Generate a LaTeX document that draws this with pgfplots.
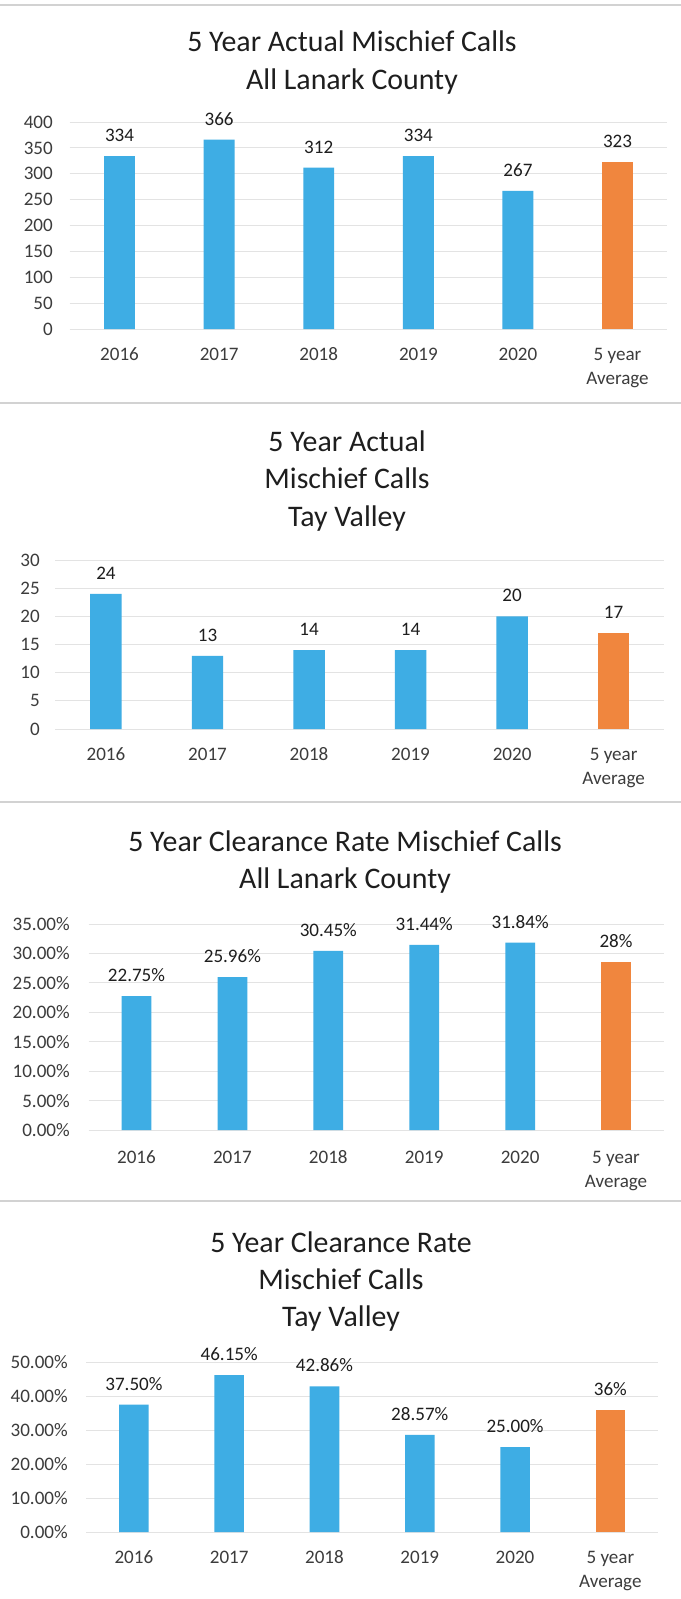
\documentclass[border=0pt]{standalone}
\usepackage{fontspec}
\setmainfont{Carlito}
\usepackage{pgfplots}
\pgfplotsset{compat=1.18}
\definecolor{barblue}{RGB}{62,173,228}
\definecolor{barorange}{RGB}{240,134,62}
\definecolor{txt}{RGB}{30,30,30}
\definecolor{ticktxt}{RGB}{60,60,60}

\pgfplotsset{
  panel/.style={
    scale only axis,
    xmin=-0.5, xmax=5.5,
    ymin=0,
    enlargelimits=false,
    axis line style={draw=none},
    major tick length=0pt,
    tick style={draw=none},
    ymajorgrids,
    grid style={gray!22, line width=0.6pt},
    xtick={0,...,5},
    xticklabels={2016,2017,2018,2019,2020,{\begin{tabular}[t]{@{}c@{}}5 year\\Average\end{tabular}}},
    xticklabel style={anchor=base, inner sep=0pt, yshift=-23.25pt, font=\fontsize{14.3}{18}\selectfont, text=ticktxt},
    yticklabel style={anchor=east, inner sep=0pt, font=\fontsize{14.3}{17}\selectfont, text=ticktxt},
    ybar, bar width=0.31, bar shift=0pt,
    point meta=explicit symbolic,
    nodes near coords,
    nodes near coords style={anchor=south, inner sep=0pt, yshift=10.5pt, font=\fontsize{14.3}{17}\selectfont, text=txt},
    clip=false,
  },
}
\tikzset{ttl/.style={anchor=base, inner sep=0pt, font=\fontsize{22.4}{28}\selectfont, text=txt}}

\begin{document}
\begin{tikzpicture}
\path[use as bounding box] (0,0) rectangle (510.75pt,-1199.25pt);
\fill[white] (0,0) rectangle (510.75pt,-1199.25pt);
% panel separators
\foreach \yy in {3.75,302.25,601.5,900.75} {
  \draw[gray!35, line width=0.9pt] (0,-\yy pt) -- (510.75pt,-\yy pt);
}

% ---------- Panel 1 ----------
\node[ttl] at (264pt,-38.4pt) {5 Year Actual Mischief Calls};
\node[ttl] at (264pt,-66.9pt) {All Lanark County};
\begin{axis}[panel,
  at={(52.3pt,-246.75pt)}, anchor=south west,
  width=448.2pt, height=155.25pt, ymax=400,
  ytick={0,50,...,400},
  yticklabels={0,50,100,150,200,250,300,350,400},
  yticklabel style={xshift=-12.5pt}]
\addplot[fill=barblue, draw=none] coordinates {(0,334) [334] (1,366) [366] (2,312) [312] (3,334) [334] (4,267) [267]};
\addplot[fill=barorange, draw=none] coordinates {(5,323) [323]};
\end{axis}

% ---------- Panel 2 ----------
\node[ttl] at (260.3pt,-338.6pt) {5 Year Actual};
\node[ttl] at (260.3pt,-366.4pt) {Mischief Calls};
\node[ttl] at (260.3pt,-394.9pt) {Tay Valley};
\begin{axis}[panel,
  at={(41.4pt,-546.75pt)}, anchor=south west,
  width=456.9pt, height=126.75pt, ymax=30,
  ytick={0,5,...,30},
  yticklabels={0,5,10,15,20,25,30},
  yticklabel style={xshift=-11.4pt}]
\addplot[fill=barblue, draw=none] coordinates {(0,24) [24] (1,13) [13] (2,14) [14] (3,14) [14] (4,20) [20]};
\addplot[fill=barorange, draw=none] coordinates {(5,17) [17]};
\end{axis}

% ---------- Panel 3 ----------
\node[ttl] at (258.8pt,-638.4pt) {5 Year Clearance Rate Mischief Calls};
\node[ttl] at (258.8pt,-666.4pt) {All Lanark County};
\begin{axis}[panel,
  at={(66.4pt,-847.5pt)}, anchor=south west,
  width=431.6pt, height=154.5pt, ymax=35,
  ytick={0,5,...,35},
  yticklabels={0.00\%,5.00\%,10.00\%,15.00\%,20.00\%,25.00\%,30.00\%,35.00\%},
  yticklabel style={xshift=-13.9pt},
  xticklabel style={yshift=-1.5pt}]
\addplot[fill=barblue, draw=none] coordinates {(0,22.75) [22.75\%] (1,25.96) [25.96\%] (2,30.45) [30.45\%] (3,31.44) [31.44\%] (4,31.84) [31.84\%]};
\addplot[fill=barorange, draw=none] coordinates {(5,28.49) [28\%]};
\end{axis}

% ---------- Panel 4 ----------
\node[ttl] at (255.75pt,-939.4pt) {5 Year Clearance Rate};
\node[ttl] at (255.75pt,-967.1pt) {Mischief Calls};
\node[ttl] at (255.75pt,-994.9pt) {Tay Valley};
\begin{axis}[panel,
  at={(64.7pt,-1149pt)}, anchor=south west,
  width=428.8pt, height=127.5pt, ymax=50,
  ytick={0,10,...,50},
  yticklabels={0.00\%,10.00\%,20.00\%,30.00\%,40.00\%,50.00\%},
  yticklabel style={xshift=-13.7pt}]
\addplot[fill=barblue, draw=none] coordinates {(0,37.50) [37.50\%] (1,46.15) [46.15\%] (2,42.86) [42.86\%] (3,28.57) [28.57\%] (4,25.00) [25.00\%]};
\addplot[fill=barorange, draw=none] coordinates {(5,36.02) [36\%]};
\end{axis}
\end{tikzpicture}
\end{document}
